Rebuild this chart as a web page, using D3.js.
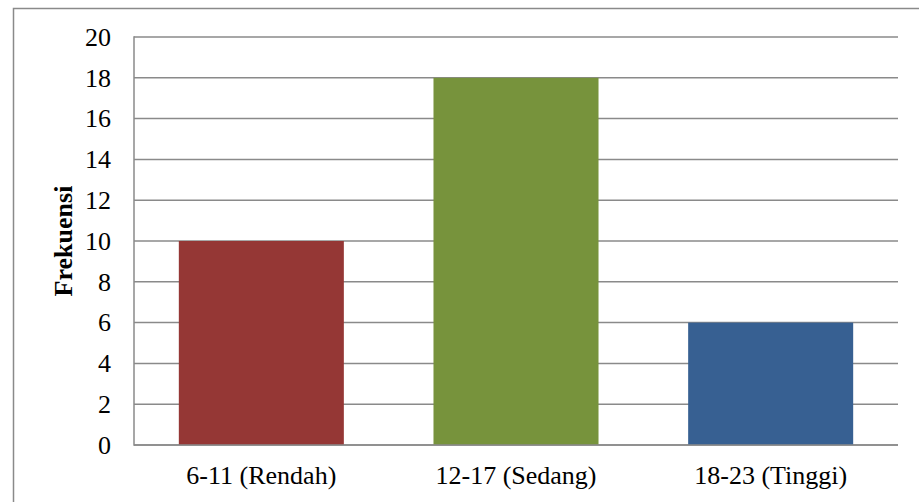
<!DOCTYPE html>
<html>
<head>
<meta charset="utf-8">
<script src="https://cdn.jsdelivr.net/npm/d3@7"></script>
<style>
  html, body { margin: 0; padding: 0; background: #fff; }
  svg { display: block; }
</style>
</head>
<body>
<svg id="chart" width="919" height="502"></svg>
<script>
// Frequency per score class
const categories = ["6-11 (Rendah)", "12-17 (Sedang)", "18-23 (Tinggi)"];
const frekuensi = [10, 18, 6];
const barColors = ["#953735", "#77933c", "#376092"];
const yTicks = [0, 2, 4, 6, 8, 10, 12, 14, 16, 18, 20];
const yTitle = "Frekuensi";

const serif = "'Liberation Serif', 'Times New Roman', serif";
const svg = d3.select("#chart");
const W = 919, H = 502;
const plot = { left: 134, right: 898, top: 37, bottom: 445 };
const gridColor = "#8a8a8a";

// Outer frame of the chart area (runs off the right and bottom edges)
svg.append("rect")
  .attr("x", 13.5).attr("y", 8.5)
  .attr("width", W).attr("height", H)
  .attr("fill", "#fff")
  .attr("stroke", gridColor).attr("stroke-width", 1.5);

const x = d3.scaleBand()
  .domain(categories)
  .range([plot.left, plot.right])
  .paddingInner(0.352)
  .paddingOuter(0.176);

const y = d3.scaleLinear()
  .domain([0, 20])
  .range([plot.bottom, plot.top]);

// Horizontal gridlines
svg.append("g")
  .selectAll("line")
  .data(yTicks)
  .join("line")
  .attr("x1", plot.left).attr("x2", plot.right)
  .attr("y1", d => y(d)).attr("y2", d => y(d))
  .attr("stroke", gridColor).attr("stroke-width", 1.5);

// Bars
svg.append("g")
  .selectAll("rect")
  .data(categories)
  .join("rect")
  .attr("x", d => x(d))
  .attr("width", x.bandwidth())
  .attr("y", (d, i) => y(frekuensi[i]))
  .attr("height", (d, i) => y(0) - y(frekuensi[i]))
  .attr("fill", (d, i) => barColors[i]);

// Axis lines drawn above the bars
svg.append("line")
  .attr("x1", plot.left).attr("x2", plot.left)
  .attr("y1", plot.top - 0.75).attr("y2", plot.bottom + 0.75)
  .attr("stroke", gridColor).attr("stroke-width", 1.5);
svg.append("line")
  .attr("x1", plot.left).attr("x2", plot.right)
  .attr("y1", plot.bottom).attr("y2", plot.bottom)
  .attr("stroke", gridColor).attr("stroke-width", 1.5);

// Y axis labels
const yAxis = d3.axisLeft(y).tickValues(yTicks).tickSize(0).tickPadding(23);
const gy = svg.append("g")
  .attr("transform", `translate(${plot.left},0)`)
  .call(yAxis)
  .attr("font-family", null)
  .attr("font-size", null);
gy.select(".domain").remove();
gy.selectAll("text")
  .style("font-family", serif)
  .style("font-size", "26px")
  .style("fill", "#000");

// X axis labels
const xAxis = d3.axisBottom(x).tickSize(0).tickPadding(21);
const gx = svg.append("g")
  .attr("transform", `translate(0,${plot.bottom})`)
  .call(xAxis)
  .attr("font-family", null)
  .attr("font-size", null);
gx.select(".domain").remove();
gx.selectAll("text")
  .style("font-family", serif)
  .style("font-size", "26px")
  .style("fill", "#000");

// Y axis title
svg.append("text")
  .attr("transform", `translate(63,${(plot.top + plot.bottom) / 2}) rotate(-90)`)
  .attr("text-anchor", "middle")
  .attr("dominant-baseline", "central")
  .style("font-family", serif)
  .style("font-size", "26px")
  .style("font-weight", "bold")
  .style("fill", "#000")
  .text(yTitle);
</script>
</body>
</html>
